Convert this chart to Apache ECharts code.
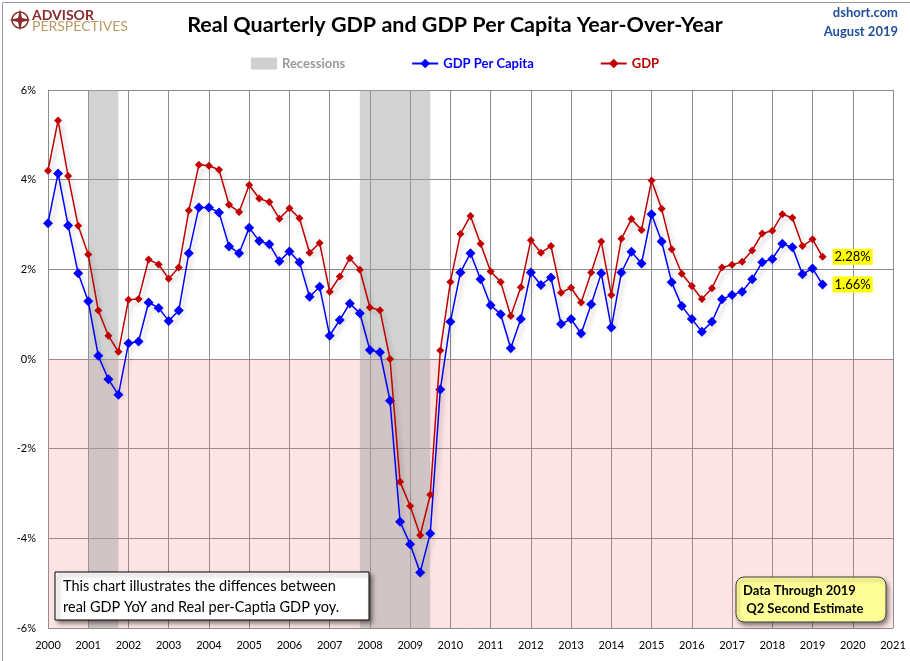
<!DOCTYPE html>
<html><head><meta charset="utf-8">
<script src="https://cdn.jsdelivr.net/npm/echarts/dist/echarts.min.js"></script>
<style>html,body{margin:0;padding:0;background:#fff}#c{width:910px;height:661px}</style>
</head><body><div id="c"></div>
<script>
// ---- data (quarterly, 2000 Q1 .. 2019 Q2) ----
const startYear = 2000;
const gdp = [4.20,5.32,4.08,2.97,2.33,1.08,0.52,0.16,1.32,1.34,2.22,2.11,1.79,2.04,3.31,4.33,4.31,4.22,3.44,3.28,
  3.88,3.58,3.50,3.13,3.36,3.14,2.37,2.59,1.50,1.84,2.25,1.99,1.15,1.09,0.00,-2.74,-3.28,-3.93,-3.03,0.19,
  1.72,2.79,3.19,2.57,1.95,1.72,0.96,1.60,2.65,2.37,2.52,1.48,1.59,1.26,1.93,2.62,1.43,2.68,3.12,2.88,
  3.98,3.35,2.45,1.90,1.63,1.34,1.58,2.04,2.10,2.17,2.42,2.80,2.86,3.23,3.15,2.52,2.67,2.28];
const gdpPerCapita = [3.03,4.14,2.98,1.91,1.29,0.07,-0.45,-0.80,0.35,0.39,1.26,1.14,0.85,1.08,2.36,3.38,3.38,3.27,2.51,2.36,
  2.93,2.63,2.56,2.18,2.40,2.16,1.39,1.61,0.52,0.87,1.24,1.02,0.20,0.15,-0.93,-3.63,-4.13,-4.76,-3.89,-0.68,
  0.83,1.93,2.36,1.78,1.20,1.00,0.24,0.89,1.93,1.65,1.82,0.78,0.89,0.57,1.22,1.91,0.70,1.93,2.39,2.13,
  3.23,2.62,1.71,1.18,0.89,0.61,0.83,1.33,1.43,1.50,1.78,2.16,2.23,2.57,2.49,1.89,2.02,1.66];
const recessions = [[2001.0, 2001.75], [2007.75, 2009.5]];
const xRange = [2000, 2021];
const yRange = [-6, 6];
const seriesNames = ['Recessions', 'GDP Per Capita', 'GDP'];
const noteText = ['This chart illustrates the diffences between', 'real GDP YoY and Real per-Captia GDP yoy.'];
const dataThrough = ['Data Through 2019', ' Q2 Second Estimate'];

// quarter index -> decimal year position
const toPairs = arr => arr.map((v, i) => [startYear + i / 4, v]);

const FONT = 'Lato, "Open Sans", sans-serif';
const chart = echarts.init(document.getElementById('c'));

const lineShadow = {shadowColor: 'rgba(0,0,0,0.22)', shadowBlur: 4, shadowOffsetX: 3, shadowOffsetY: 4};

chart.setOption({
  animation: false,
  textStyle: {fontFamily: FONT},
  grid: {left: 48, right: 17, top: 90, bottom: 33},
  legend: {
    left: 246, top: 52, itemGap: 66, itemWidth: 26, itemHeight: 12,
    selectedMode: false,
    textStyle: {fontSize: 13, fontWeight: 'bold', fontFamily: FONT},
    data: [
      {name: seriesNames[0], icon: 'rect', itemStyle: {color: '#cfcfcf'}, textStyle: {color: '#9a9a9a'}},
      {name: seriesNames[1], textStyle: {color: '#0000ff'}},
      {name: seriesNames[2], textStyle: {color: '#c00000'}}
    ]
  },
  xAxis: {
    type: 'value', min: xRange[0], max: xRange[1], interval: 1,
    axisLine: {show: false}, axisTick: {show: false},
    axisLabel: {color: '#000', fontSize: 11, margin: 12, formatter: v => String(v)},
    splitLine: {show: true, lineStyle: {color: '#8c8c8c', width: 1}}
  },
  yAxis: {
    type: 'value', min: yRange[0], max: yRange[1], interval: 2,
    axisLine: {show: true, lineStyle: {color: '#8c8c8c'}}, axisTick: {show: false},
    axisLabel: {color: '#000', fontSize: 11, margin: 12, formatter: v => v + '%'},
    splitLine: {show: true, lineStyle: {color: '#8c8c8c', width: 1}}
  },
  series: [
    {
      name: 'negative', type: 'line', data: [], silent: true, z: 1,
      markArea: {silent: true, itemStyle: {color: 'rgba(245,120,120,0.2)'},
        data: [[{coord: [xRange[0], yRange[0]]}, {coord: [xRange[1], 0]}]]}
    },
    {
      name: seriesNames[0], type: 'line', data: [], silent: true, z: 1,
      itemStyle: {color: '#cfcfcf'},
      markArea: {silent: true, itemStyle: {color: 'rgba(160,160,160,0.48)'},
        data: recessions.map(r => [{coord: [r[0], yRange[1]]}, {coord: [r[1], yRange[0]]}])}
    },
    {
      name: seriesNames[1], type: 'line', data: toPairs(gdpPerCapita), z: 3,
      symbol: 'diamond', symbolSize: 10,
      itemStyle: {color: '#0000ff'},
      lineStyle: Object.assign({color: '#0000ff', width: 1.5}, lineShadow),
      endLabel: {show: true, distance: 10, formatter: p => p.value[1].toFixed(2) + '%',
        color: '#000', fontSize: 13, backgroundColor: '#ffff00', padding: [2, 2, 1, 2]}
    },
    {
      name: seriesNames[2], type: 'line', data: toPairs(gdp), z: 4,
      symbol: 'diamond', symbolSize: 8,
      itemStyle: {color: '#c00000'},
      lineStyle: Object.assign({color: '#c00000', width: 1.5}, lineShadow),
      endLabel: {show: true, distance: 10, formatter: p => p.value[1].toFixed(2) + '%',
        color: '#000', fontSize: 13, backgroundColor: '#ffff00', padding: [2, 2, 1, 2]}
    }
  ],
  graphic: [
    {type: 'rect', left: 0, top: 0, shape: {x: 0.5, y: 0.5, width: 909, height: 660},
      style: {fill: 'none', stroke: '#9a9a9a', lineWidth: 1}, silent: true, z: 0},
    // logo
    {type: 'circle', shape: {cx: 20, cy: 20, r: 8}, style: {fill: 'none', stroke: '#8b2a2a', lineWidth: 1.5}, z: 10},
    {type: 'polygon', shape: {points: [[20,9],[22,18],[31,20],[22,22],[20,31],[18,22],[9,20],[18,18]]},
      style: {fill: '#8b2a2a'}, z: 10},
    {type: 'text', left: 32, top: 8, style: {text: 'ADVISOR', fill: '#8b2a2a', font: 'bold 14px ' + FONT}, z: 10},
    {type: 'text', left: 32, top: 19, style: {text: 'PERSPECTIVES', fill: '#b89a62', font: '14px ' + FONT}, z: 10},
    // title
    {type: 'text', left: 'center', top: 14, style: {text: 'Real Quarterly GDP and GDP Per Capita Year-Over-Year',
      fill: '#000', font: 'bold 21.5px ' + FONT}, z: 10},
    {type: 'text', right: 12, top: 6, style: {text: 'dshort.com', fill: '#1f4e9a', font: 'bold 13px ' + FONT, align: 'right'}, z: 10},
    {type: 'text', right: 12, top: 25, style: {text: 'August 2019', fill: '#1f4e9a', font: 'bold 13px ' + FONT, align: 'right'}, z: 10},
    // note box
    {type: 'rect', shape: {x: 55, y: 572, width: 314, height: 48},
      style: {fill: '#fff', stroke: '#000', lineWidth: 1, shadowBlur: 4, shadowOffsetX: 3, shadowOffsetY: 3, shadowColor: 'rgba(0,0,0,0.45)'}, z: 10},
    {type: 'text', left: 63, top: 576, style: {text: noteText.join('\n'), fill: '#000', font: '14.5px ' + FONT, lineHeight: 21}, z: 11},
    // data through box
    {type: 'rect', shape: {x: 736, y: 577, width: 150, height: 45, r: 8},
      style: {fill: '#ffff99', stroke: '#404040', lineWidth: 1, shadowBlur: 4, shadowOffsetX: 2, shadowOffsetY: 3, shadowColor: 'rgba(0,0,0,0.45)'}, z: 10},
    {type: 'text', left: 743, top: 582, style: {text: dataThrough.join('\n'), fill: '#000', font: 'bold 13px ' + FONT, lineHeight: 18}, z: 11}
  ]
});
</script></body></html>
